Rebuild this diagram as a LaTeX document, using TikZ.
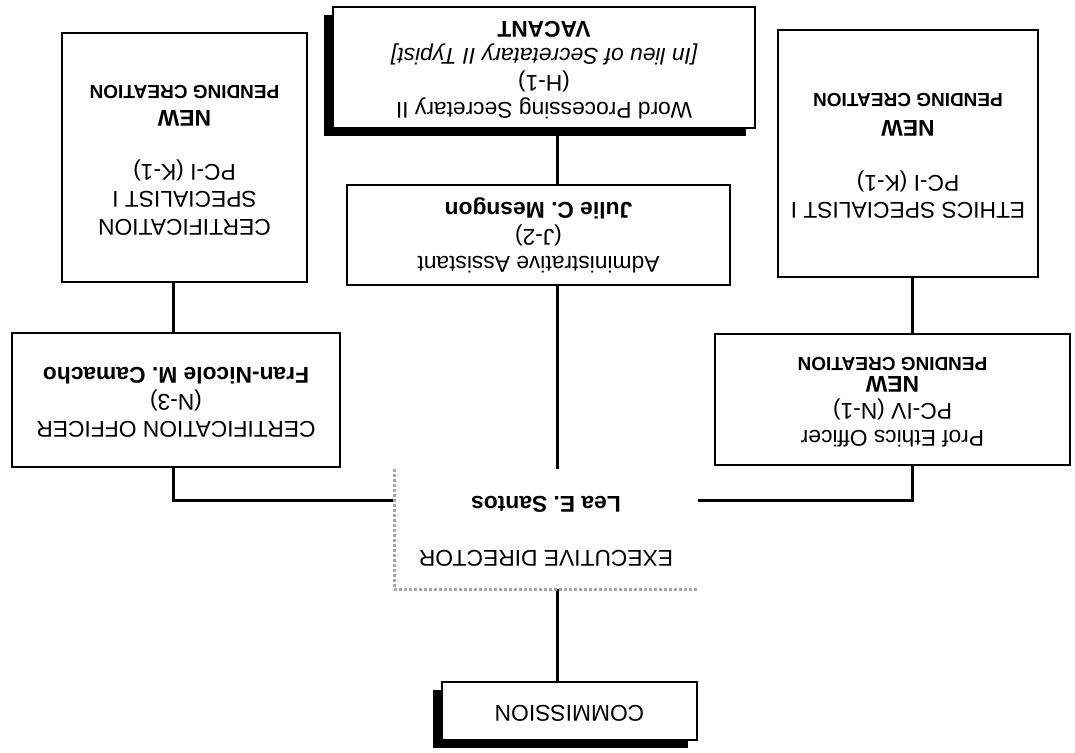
\documentclass[tikz,border=0pt]{standalone}
\usepackage{fontspec}
\setmainfont{Liberation Sans}
\usepackage{graphicx}
\usetikzlibrary{shadows}
% the chart is scanned upside down, so every label is turned round
\newcommand\flip[1]{\rotatebox[origin=c]{180}{\begin{tabular}{@{}c@{}}#1\end{tabular}}}
\newcommand\pend{{\fontsize{9.5}{11}\selectfont\bfseries PENDING CREATION}}
\newcommand\new{\textbf{NEW}}
\tikzstyle{post}=[draw,line width=1pt,inner sep=0pt,fill=white,font=\fontsize{11.4}{13.6}\selectfont]
\tikzstyle{boss}=[post,drop shadow={fill=black,opacity=1,shadow xshift=-4.5pt,shadow yshift=-4pt}]
\tikzstyle{link}=[line width=1.5pt]
\tikzstyle{faint}=[black!35,densely dotted,line width=1.5pt]

\begin{document}
\begin{tikzpicture}[x=0.5pt,y=-0.5pt]
	\useasboundingbox (0,0) rectangle (1075,753);
	\coordinate (spine) at (557,0);
	\coordinate (lcol) at (173,0);
	\coordinate (rcol) at (912,0);
	\coordinate (tie) at (0,500);
	\node[boss,minimum width=211pt,minimum height=60.5pt] (wps) at (544,67.5)
		{\flip{Word Processing Secretary II\\(H-1)\\\textit{[In lieu of Secretatary II Typist]}\\\textbf{VACANT}}};
	\node[post,minimum width=191.5pt,minimum height=50pt] (admin) at (538.5,235)
		{\flip{Administrative Assistant\\(J-2)\\\textbf{Julie C. Mesngon}}};
	\node[post,minimum width=122.5pt,minimum height=124.5pt] (certspec) at (184.5,157.5)
		{\flip{CERTIFICATION\\SPECIALIST I\\PC-I (K-1)\\ \\\new\\[-1pt]\pend}};
	\node[post,minimum width=130pt,minimum height=123.5pt] (ethspec) at (908,153.5)
		{\flip{ETHICS SPECIALIST I\\PC-I (K-1)\\ \\\new\\\pend}};
	\node[post,minimum width=164pt,minimum height=67pt] (certoff) at (176,400)
		{\flip{CERTIFICATION OFFICER\\(N-3)\\\textbf{Fran-Nicole M. Camacho}}};
	\node[post,minimum width=177.5pt,minimum height=65.5pt] (ethoff) at (892.5,399.5)
		{\flip{Prof Ethics Officer\\PC-IV (N-1)\\\new\\[-4pt]\pend}};
	\node[post,draw=none,fill=none,minimum width=151pt,minimum height=59pt] (ed) at (546,529)
		{\flip{EXECUTIVE DIRECTOR\\[13.6pt]\textbf{Lea E. Santos}}};
	\node[boss,minimum width=127.5pt,minimum height=29pt] (comm) at (569.5,711)
		{\flip{COMMISSION}};
	% reporting lines
	\draw[link] (wps.south -| spine) -- (admin.north -| spine);
	\draw[link] (admin.south -| spine) -- (ed.north -| spine);
	\draw[link] (ed.south -| spine) -- (comm.north -| spine);
	\draw[link] (certspec.south -| lcol) -- (certoff.north -| lcol);
	\draw[link] (certoff.south -| lcol) |- (ed.west |- tie);
	\draw[link] (ethspec.south -| rcol) -- (ethoff.north -| rcol);
	\draw[link] (ethoff.south -| rcol) |- (ed.east |- tie);
	\draw[faint] (ed.north west) -- (ed.south west) -- (ed.south east);
\end{tikzpicture}
\end{document}
